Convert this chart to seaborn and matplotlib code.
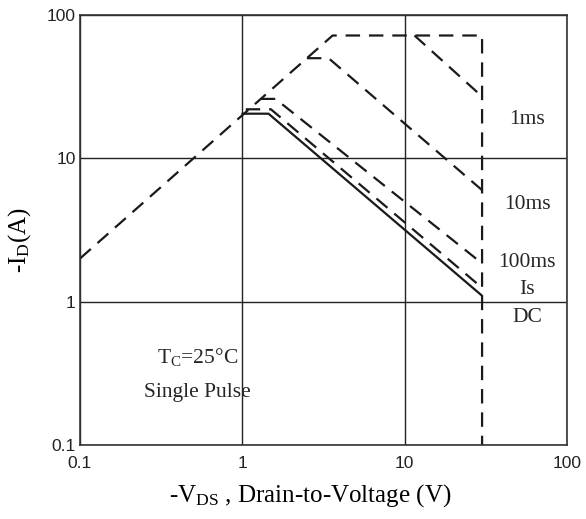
import matplotlib
matplotlib.use("Agg")
import matplotlib.pyplot as plt
import seaborn as sns
import pandas as pd

sns.set_style("white")
plt.rcParams['font.family'] = ['Liberation Sans', 'DejaVu Sans']
plt.rcParams['mathtext.fontset'] = 'custom'
plt.rcParams['mathtext.rm'] = 'Liberation Serif'
plt.rcParams['mathtext.it'] = 'Liberation Serif:italic'
plt.rcParams['mathtext.bf'] = 'Liberation Serif:bold'

# data
env_x = [0.1, 3.6, 30, 30]
env_y = [2.0, 72, 72, 0.1]
ms1_x = [11.5, 30]
ms1_y = [72, 27]
ms10_x = [2.5, 3.4, 30]
ms10_y = [50, 50, 6.0]
ms100_x = [1.3, 1.6, 30]
ms100_y = [26, 26, 1.85]
is_x = [1.05, 1.5, 30]
is_y = [22, 22, 1.25]
dc_x = [1.0, 1.45, 30]
dc_y = [20.5, 20.5, 1.1]

labels = ["1ms", "10ms", "100ms", "Is", "DC"]
label_y = [18.6, 4.76, 1.88, 1.22, 0.78]
ticks = [0.1, 1, 10, 100]
tick_labels = ["0.1", "1", "10", "100"]

fig = plt.figure(figsize=(5.86, 5.19), dpi=100)
ax = fig.add_axes([0.1365, 0.1426, 0.831, 0.8284])

dash = (6.5, 4)
for xs, ys in [(env_x, env_y), (ms1_x, ms1_y), (ms10_x, ms10_y),
               (ms100_x, ms100_y), (is_x, is_y)]:
    df = pd.DataFrame({"x": xs, "y": ys})
    l = sns.lineplot(data=df, x="x", y="y", ax=ax, color="#1a1a1a",
                     lw=1.6, sort=False, estimator=None)
    l.lines[-1].set_dashes(dash)
sns.lineplot(data=pd.DataFrame({"x": dc_x, "y": dc_y}), x="x", y="y", ax=ax,
             color="#1a1a1a", lw=1.6, sort=False, estimator=None)

ax.set_xscale("log")
ax.set_yscale("log")
ax.set_xlim(0.1, 100)
ax.set_ylim(0.1, 100)
ax.set_xticks(ticks)
ax.set_xticklabels(tick_labels)
ax.set_yticks(ticks)
ax.set_yticklabels(tick_labels)
ax.minorticks_off()
ax.tick_params(axis="x", length=0, pad=8, labelsize=12.5, colors="#222222")
ax.tick_params(axis="y", length=0, pad=3, labelsize=12.5, colors="#222222")
ax.grid(True, which="major", color="#222222", lw=1)
for s in ax.spines.values():
    s.set_color("#333333")
    s.set_linewidth(1.2)

serif = ['Liberation Serif', 'DejaVu Serif']
ax.set_xlabel(r"-V$_{\mathrm{DS}}$ , Drain-to-Voltage (V)", family=serif,
              fontsize=18, color="black")
ax.set_ylabel(r"-I$_{\mathrm{D}}$(A)", family=serif, fontsize=18,
              color="black")
ax.xaxis.set_label_coords(0.472, -0.087)
ax.yaxis.set_label_coords(-0.097, 0.477)

for t, yv in zip(labels, label_y):
    ax.text(57, yv, t, family=serif, fontsize=15.5, ha="center", va="center")
ax.text(0.53, 0.41, r"T$_{\mathrm{C}}$=25°C", family=serif, fontsize=15.5,
        ha="center", va="center")
ax.text(0.53, 0.234, "Single Pulse", family=serif, fontsize=15.5,
        ha="center", va="center")

fig.savefig("out.png", dpi=100)
